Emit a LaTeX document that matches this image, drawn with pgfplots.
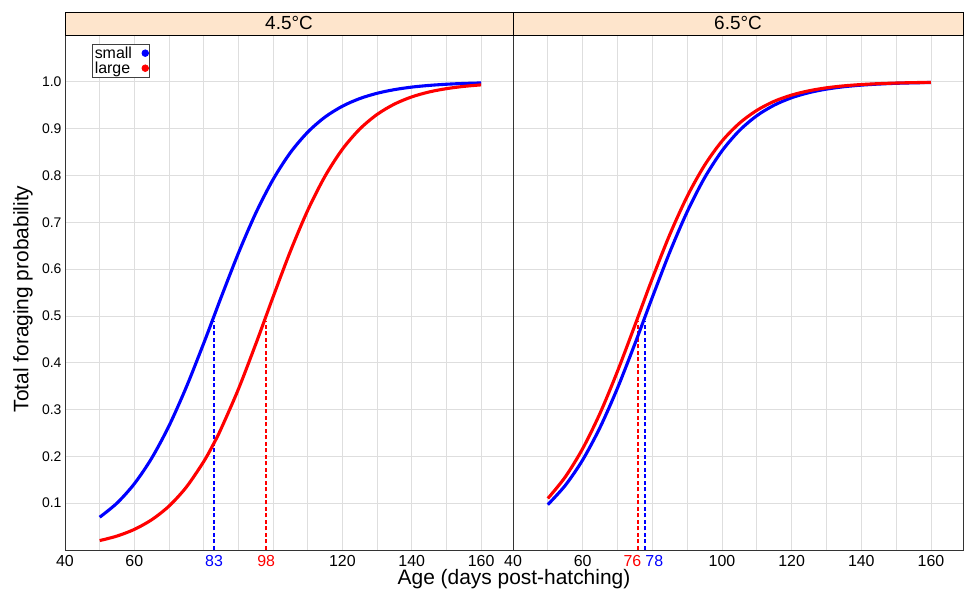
\documentclass[border=0pt]{standalone}
\usepackage{pgfplots}
\pgfplotsset{compat=1.18}
\usepackage{fontspec}
\setmainfont{Liberation Sans}
\definecolor{strip}{RGB}{254,229,204}
\definecolor{gridc}{RGB}{222,222,222}
\definecolor{pblue}{RGB}{0,0,255}
\definecolor{pred}{RGB}{255,0,0}
\pgfplotsset{
  panel/.style={
    scale only axis, width=448bp, height=515bp,
    xmin=40, xmax=169.2, ymin=0, ymax=1.1,
    minor xtick={40,50,...,160}, xminorgrids=true, xmajorgrids=false,
    ytick={0.1,0.2,0.3,0.4,0.5,0.6,0.7,0.8,0.9,1.0},
    ymajorgrids=true,
    grid style={gridc, line width=0.8bp},
    minor grid style={gridc, line width=0.8bp},
    major tick length=0pt, minor tick length=0pt,
    axis line style={black!80, line width=1bp},
    xticklabel style={font=\fontsize{16}{16}\selectfont, yshift=-1.5bp},
    yticklabel style={font=\fontsize{14}{14}\selectfont},
    clip=false,
  },
  curve/.style={line width=3.1bp, smooth},
  dline/.style={line width=1.8bp, dash pattern=on 4bp off 2.5bp},
}
\begin{document}
\begin{tikzpicture}
\path[use as bounding box] (0,0) rectangle (965bp,592bp);
\begin{axis}[panel, at={(65bp,42bp)}, anchor=south west,
  xtick={40,60,83,98,120,140,160},
  xticklabels={40,60,\textcolor{pblue}{83},\textcolor{pred}{98},120,140,160},
  yticklabels={0.1,0.2,0.3,0.4,0.5,0.6,0.7,0.8,0.9,1.0},
  legend style={at={(0.06,0.983)}, anchor=north west, draw=black!75, line width=0.8bp,
    font=\fontsize{16}{13}\selectfont, inner sep=0.5bp, row sep=-2bp, column sep=8bp, fill=white},
  legend cell align=left, legend plot pos=right,
]
\fill[strip] (rel axis cs:0,1) rectangle (rel axis cs:1,1.0447);
\draw[black, line width=0.8bp] (rel axis cs:0,1.0447) rectangle (rel axis cs:1,1);
\node[font=\fontsize{19}{19}\selectfont] at (rel axis cs:0.5,1.0224) {4.5°C};
\addlegendimage{only marks, mark=*, mark size=3.3bp, pblue}
\addlegendentry{small}
\addlegendimage{only marks, mark=*, mark size=3.3bp, pred}
\addlegendentry{large}
\addplot[pblue, dline, forget plot] coordinates {(83,0) (83,0.49)};
\addplot[pred, dline, forget plot] coordinates {(98,0) (98,0.49)};
\addplot[pblue, curve, forget plot] coordinates {
(50,0.0700)(55,0.1002)(60,0.1415)(65,0.1961)(70,0.2652)(75,0.3482)(80,0.4415)(83,0.5)
(85,0.5392)(90,0.6339)(95,0.7193)(100,0.7913)(105,0.8488)(110,0.8925)(115,0.9248)
(120,0.9479)(125,0.9642)(130,0.9755)(135,0.9833)(140,0.9887)(145,0.9923)(150,0.9948)
(155,0.9965)(160,0.9976)};
\addplot[pred, curve, forget plot] coordinates {
(50,0.0201)(55,0.0298)(60,0.0440)(65,0.0646)(70,0.0938)(75,0.1344)(80,0.1888)(83,0.2288)
(85,0.2587)(90,0.3434)(95,0.4396)(98,0.5)(100,0.5404)(105,0.6381)(110,0.7255)(115,0.7985)
(120,0.8560)(125,0.8991)(130,0.9303)(135,0.9524)(140,0.9678)(145,0.9783)(150,0.9854)
(155,0.9902)(160,0.9935)};
\end{axis}
\begin{axis}[panel, at={(513bp,42bp)}, anchor=south west, width=450bp,
  xtick={40,60,76,78,100,120,140,160},
  xticklabels={40,60,\textcolor{pred}{76\hspace{12bp}},\textcolor{pblue}{\hspace{18bp}78},100,120,140,160},
  yticklabels={},
]
\fill[strip] (rel axis cs:0,1) rectangle (rel axis cs:1,1.0447);
\draw[black, line width=0.8bp] (rel axis cs:0,1.0447) rectangle (rel axis cs:1,1);
\node[font=\fontsize{19}{19}\selectfont] at (rel axis cs:0.5,1.0224) {6.5°C};
\addplot[pred, dline, forget plot] coordinates {(76,0) (76,0.49)};
\addplot[pblue, dline, forget plot] coordinates {(78,0) (78,0.49)};
\addplot[pblue, curve, forget plot] coordinates {
(50,0.0969)(55,0.1379)(60,0.1923)(65,0.2619)(70,0.3458)(75,0.4405)(78,0.5)(80,0.5397)
(85,0.6360)(90,0.7223)(95,0.7949)(100,0.8524)(105,0.8959)(110,0.9276)(115,0.9502)
(120,0.9660)(125,0.9769)(130,0.9844)(135,0.9895)(140,0.9929)(145,0.9952)(150,0.9968)
(155,0.9978)(160,0.9986)};
\addplot[pred, curve, forget plot] coordinates {
(50,0.1101)(55,0.1560)(60,0.2165)(65,0.2923)(70,0.3818)(75,0.4800)(76,0.5)(80,0.5798)
(85,0.6735)(90,0.7551)(95,0.8217)(100,0.8733)(105,0.9115)(110,0.9390)(115,0.9584)
(120,0.9717)(125,0.9809)(130,0.9872)(135,0.9914)(140,0.9942)(145,0.9961)(150,0.9974)
(155,0.9983)(160,0.9988)};
\end{axis}
\node[font=\fontsize{21}{21}\selectfont] at (514bp,13bp) {Age (days post-hatching)};
\node[font=\fontsize{21}{21}\selectfont, rotate=90] at (23bp,293bp) {Total foraging probability};
\end{tikzpicture}
\end{document}
